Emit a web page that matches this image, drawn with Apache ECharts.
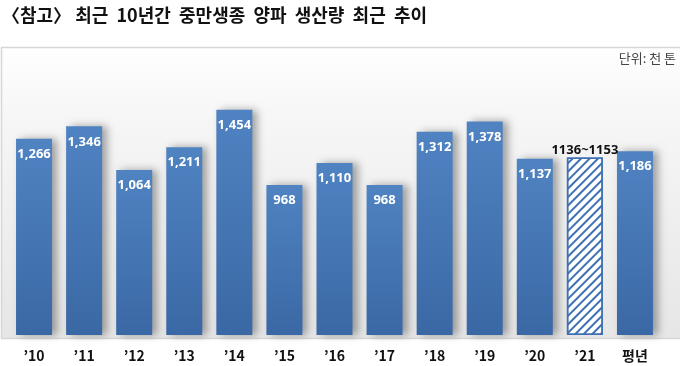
<!DOCTYPE html>
<html><head><meta charset="utf-8">
<script src="https://cdn.jsdelivr.net/npm/echarts@6/dist/echarts.min.js"></script>
<style>html,body{margin:0;padding:0;background:#fff}#c{width:680px;height:366px}</style>
</head><body><div id="c"></div>
<script>
const categories = ["’10","’11","’12","’13","’14","’15","’16","’17","’18","’19","’20","’21","평년"];
const values = [1266,1346,1064,1211,1454,968,1110,968,1312,1378,1137,1145,1186];
const rangeLabel = "1136~1153";
const titleText = "〈참고〉 최근  10년간  중만생종  양파  생산량  최근  추이";
const unitText = "단위: 천 톤";
const hatchedIndex = 11;

const chart = echarts.init(document.getElementById('c'), null, {renderer:'canvas'});
const blueGrad = new echarts.graphic.LinearGradient(0,0,0,1,[{offset:0,color:'#5083c2'},{offset:1,color:'#3a68a5'}]);
const data = values.map((v,i)=>{
  if(i===hatchedIndex){
    return {value:v,
      itemStyle:{color:'#ffffff',borderColor:'#3f70b3',borderWidth:1.5,shadowBlur:0,shadowOffsetX:0,
        decal:{symbol:'rect',symbolSize:1,dashArrayX:[1,0],dashArrayY:[2,4],rotation:-Math.PI/4,color:'#3f70b3'}},
      label:{show:true,position:'top',distance:1,color:'#111',fontWeight:'bold',fontSize:13,formatter:rangeLabel}};
  }
  return {value:v};
});
chart.setOption({
  animation:false,
  backgroundColor:'#fff',
  graphic:[
    {type:'rect',z:-10,shape:{x:1.5,y:47.5,width:690,height:291},
     style:{fill:new echarts.graphic.LinearGradient(0,0,0,1,[{offset:0,color:'#ffffff'},{offset:0.25,color:'#f6f6f6'},{offset:1,color:'#e6e6e6'}]),stroke:'#d6d6d6',lineWidth:1.5}},
    {type:'text',left:2,top:6,style:{text:titleText,fontFamily:'Noto Sans CJK KR',fontSize:18,fontWeight:'bold',fill:'#111'}},
    {type:'text',right:4,top:52,style:{text:unitText,fontFamily:'Noto Sans CJK KR',fontSize:13,fill:'#444'}}
  ],
  grid:{left:9,width:651,top:56,bottom:31,containLabel:false},
  xAxis:{type:'category',data:categories,
    axisLine:{show:false},axisTick:{show:false},
    axisLabel:{margin:14,color:'#111',fontWeight:'bold',fontSize:14,fontFamily:'Noto Sans CJK KR'}},
  yAxis:{type:'value',min:0,max:1800,show:false,splitLine:{show:false}},
  series:[{type:'bar',data:data,barWidth:36,
    itemStyle:{color:blueGrad,shadowColor:'rgba(0,0,0,0.35)',shadowBlur:8,shadowOffsetX:5,shadowOffsetY:0},
    label:{show:true,position:'insideTop',distance:9,color:'#fff',fontWeight:'bold',fontSize:13,fontFamily:'Noto Sans',
      formatter:p=>p.value.toLocaleString('en-US')}}]
});
</script></body></html>
